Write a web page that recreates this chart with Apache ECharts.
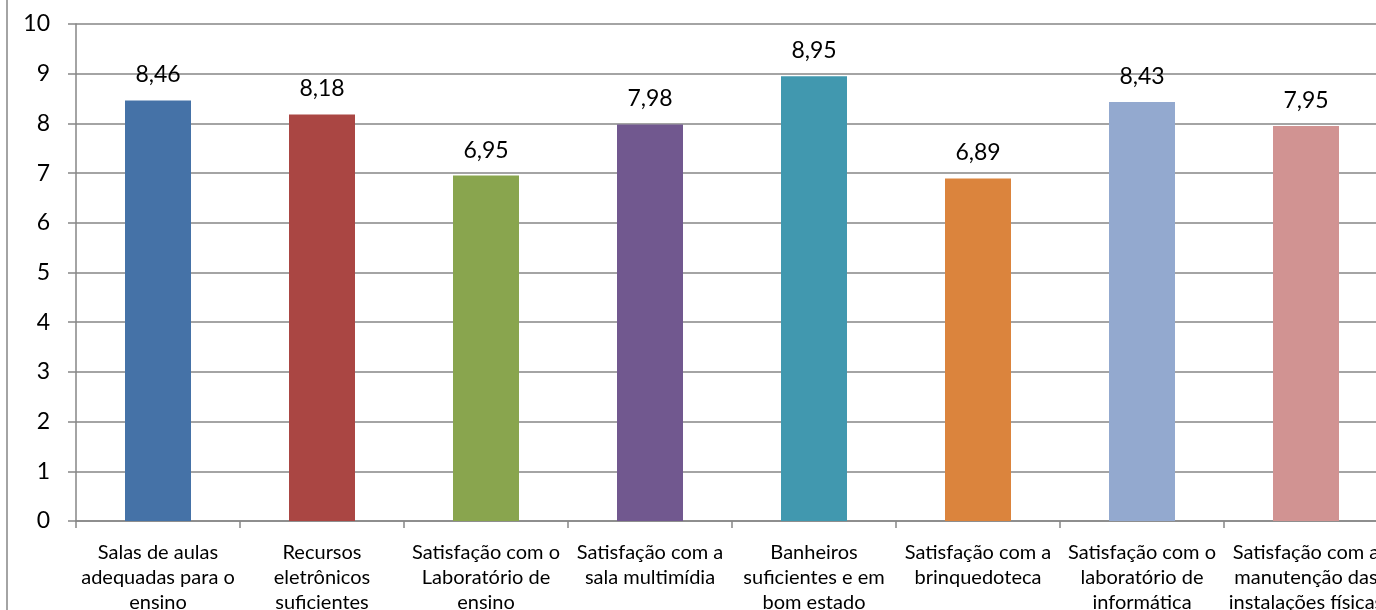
<!DOCTYPE html>
<html>
<head>
<meta charset="utf-8">
<script src="https://cdn.jsdelivr.net/npm/echarts@6/dist/echarts.min.js"></script>
<style>
html,body{margin:0;padding:0;background:#fff;}
#c{width:1376px;height:610px;}
</style>
</head>
<body>
<div id="c"></div>
<script>
const categories = [
  "Salas de aulas\nadequadas para o\nensino",
  "Recursos\neletrônicos\nsuficientes",
  "Satisfação com o\nLaboratório de\nensino",
  "Satisfação com a\nsala multimídia",
  "Banheiros\nsuficientes e em\nbom estado",
  "Satisfação com a\nbrinquedoteca",
  "Satisfação com o\nlaboratório de\ninformática",
  "Satisfação com a\nmanutenção das\ninstalações físicas"
];
const values = [8.46, 8.18, 6.95, 7.98, 8.95, 6.89, 8.43, 7.95];
const colors = ["#4572A7", "#AA4643", "#89A54E", "#71588F", "#4198AF", "#DB843D", "#93A9CF", "#D19392"];
const yTicks = [0, 1, 2, 3, 4, 5, 6, 7, 8, 9, 10];

const chart = echarts.init(document.getElementById('c'), null, {renderer: 'canvas'});
const font = 'Lato';
chart.setOption({
  animation: false,
  backgroundColor: '#fff',
  grid: {left: 76, top: 24, bottom: 89, right: -12, containLabel: false, outerBoundsMode: 'none'},
  xAxis: {
    type: 'category',
    data: categories,
    axisLine: {show: true, lineStyle: {color: '#868686', width: 1.5}},
    axisTick: {show: true, length: 7, alignWithLabel: false, lineStyle: {color: '#868686', width: 1.5}},
    axisLabel: {interval: 0, color: '#000', fontFamily: font, fontSize: 20, lineHeight: 25, margin: 19}
  },
  yAxis: {
    type: 'value',
    min: yTicks[0], max: yTicks[yTicks.length - 1], interval: 1,
    axisLine: {show: true, lineStyle: {color: '#868686', width: 1.5}},
    axisTick: {show: true, length: 8, lineStyle: {color: '#868686', width: 1.5}},
    splitLine: {show: true, lineStyle: {color: '#868686', width: 1.5}},
    axisLabel: {color: '#000', fontFamily: font, fontSize: 23, margin: 26}
  },
  series: [{
    type: 'bar',
    data: values.map((v, i) => ({value: v, itemStyle: {color: colors[i]}})),
    barWidth: 66,
    label: {
      show: true, position: 'top', distance: 14,
      color: '#000', fontFamily: font, fontSize: 23,
      formatter: p => p.value.toFixed(2).replace('.', ',')
    }
  }],
  graphic: [{
    type: 'line', shape: {x1: 7, y1: 0, x2: 7, y2: 610},
    style: {stroke: '#868686', lineWidth: 1.5}
  }]
});
</script>
</body>
</html>
